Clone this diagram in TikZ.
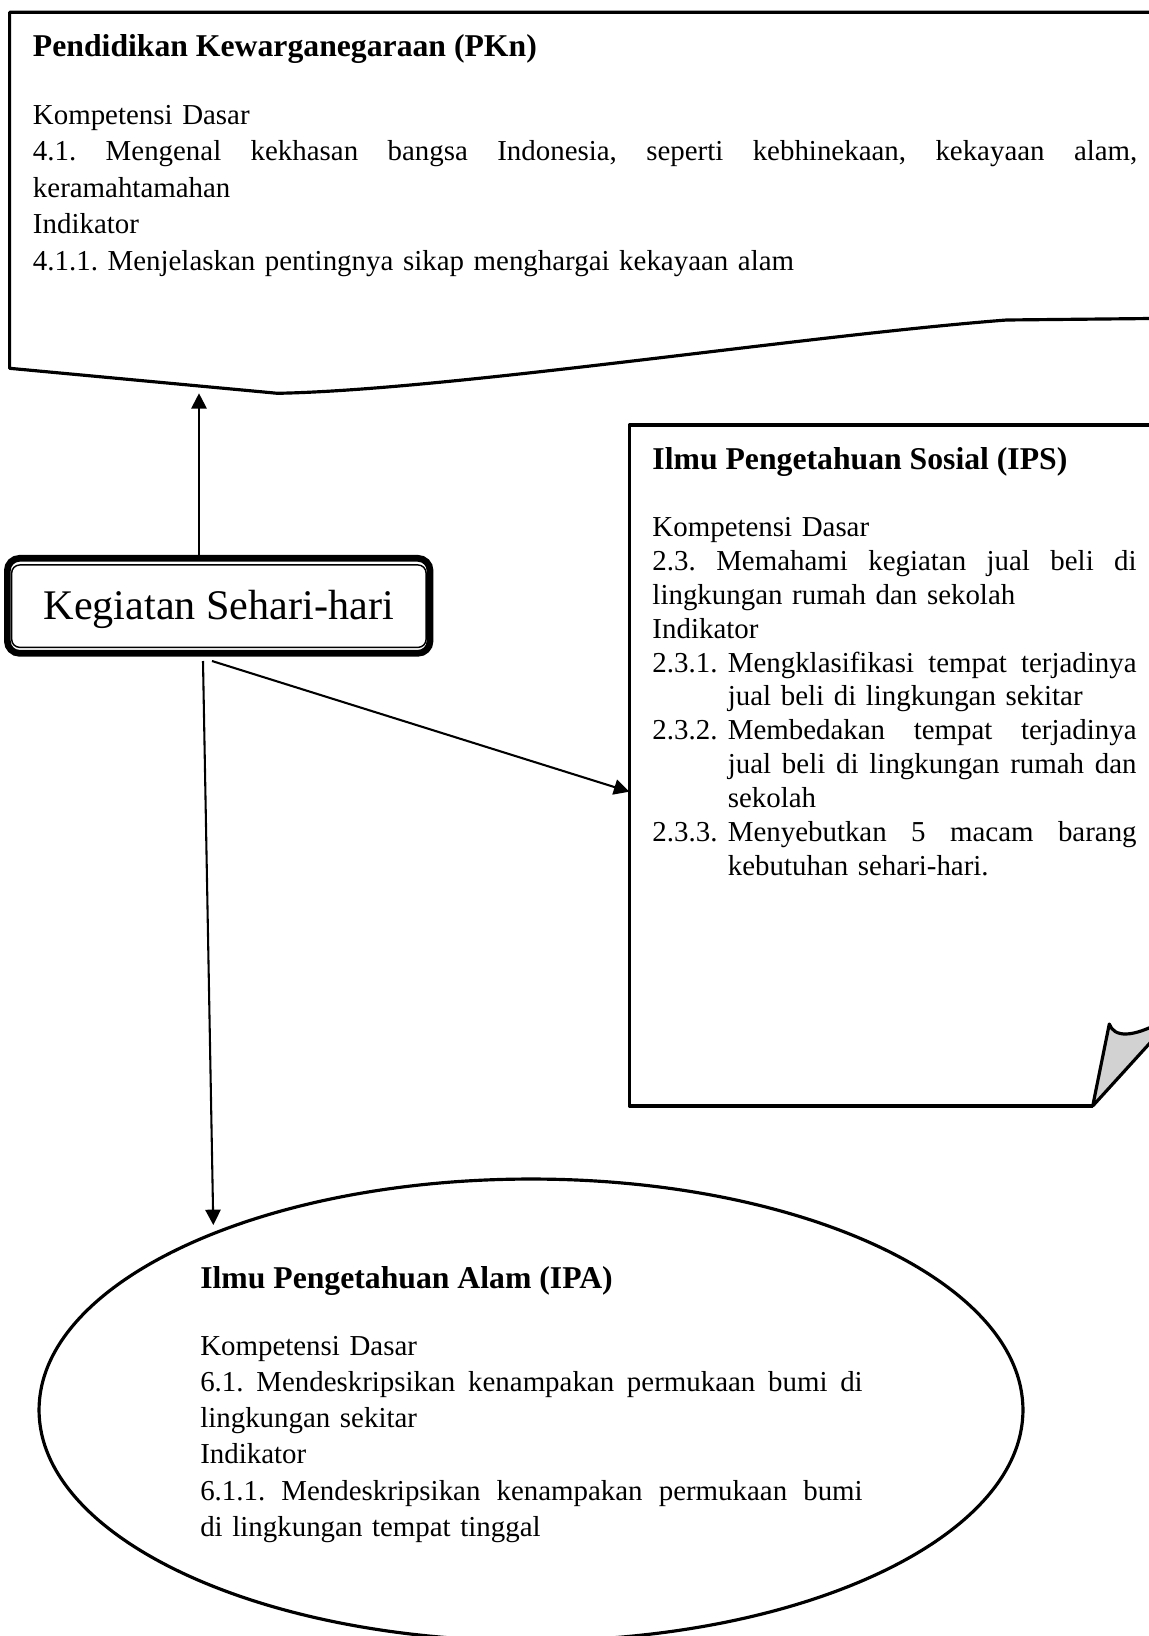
\documentclass[tikz,border=0pt]{standalone}
\usepackage{fontspec}
\setmainfont{Liberation Serif}
\usetikzlibrary{arrows.meta,shapes.geometric}
\frenchspacing
\setlength{\parindent}{0pt}
% hanging indent of the numbered indicator items
\newlength{\hangind}
\setlength{\hangind}{30.9pt}
% a line whose word spaces are stretched to the given width
\newcommand{\spreadrow}[2]{\makebox[#1][s]{\spaceskip=0.25em plus 1fil\relax #2}}
% numbered item: number in the indent, text stretched to the right margin
\newcommand{\numrow}[3]{\makebox[\hangind][l]{#2}\spreadrow{#1}{#3}}
% continuation line of an item, ragged
\newcommand{\hangrow}[1]{\hspace*{\hangind}#1}
% continuation line of an item, stretched
\newcommand{\hangfull}[2]{\hspace*{\hangind}\spreadrow{#1}{#2}}

\begin{document}
\begin{tikzpicture}[x=0.41pt,y=-0.41pt,
  panel/.style={line width=1.3pt, line join=round},
  heading/.style={inner sep=0pt, anchor=base west, font=\fontsize{13}{15}\selectfont\bfseries},
  bodytext/.style={inner sep=0pt, anchor=base west, align=left},
  arr/.style={line width=0.85pt, -{Triangle[length=6.3pt,width=6.3pt]}},
  hub/.style={draw, line width=2.75pt, rounded corners=5pt, inner sep=0pt,
    minimum width=173.3pt, minimum height=38.95pt,
    font=\fontsize{17.3}{20}\selectfont, text height=11.6pt, text depth=0pt}]

\useasboundingbox (0,0) rectangle (1149,1636);
\clip (0,0) rectangle (1149,1636);

% PKn: document shape with wavy lower edge
\draw[panel] (1170,12.3) -- (9.6,12.3) -- (9.6,368.3) -- (277.5,393.3)
  .. controls (450,390) and (800,336) .. (1006.5,320) -- (1170,318.3);

% IPS: sheet with a curled lower right corner
\draw[panel] (1092.7,1106) -- (629.4,1106) -- (629.4,425) -- (1170,425);
\fill[gray!35] (1092.7,1106) -- (1109.3,1024)
  .. controls (1114,1037) and (1131,1039) .. (1165,1020) -- (1165,1026.4) -- cycle;
\draw[panel] (1165,1026.4) -- (1092.7,1106) -- (1109.3,1024)
  .. controls (1114,1037) and (1131,1039) .. (1165,1020);

% IPA: ellipse
\node[draw, ellipse, line width=1.3pt, inner sep=0pt,
  minimum width=403.4pt, minimum height=189.4pt] (ipa) at (531,1410) {};

% central topic
\node[hub] (keg) at (218.7,605.8) {Kegiatan Sehari-hari};
\draw[line width=0.6pt, rounded corners=3.3pt]
  ([shift={(3.15pt,-4.1pt)}]keg.north west) rectangle ([shift={(-3pt,3.8pt)}]keg.south east);

% connector end points
\coordinate (pknIn) at (199,393.3);
\coordinate (ipsIn) at (629.3,791.7);
\coordinate (ipaIn) at (213.3,1225);
\coordinate (kegOutA) at (203,661);
\coordinate (kegOutB) at (212,661);

\draw[arr] (keg.north -| pknIn) -- (pknIn);
\draw[arr] (kegOutB) -- (ipsIn);
\draw[arr] (kegOutA) -- (ipaIn);

% PKn text
\node[heading] (pknT) at (32.5,56.3) {Pendidikan Kewarganegaraan (PKn)};
\node[bodytext, text width=452.8pt, font=\fontsize{11.85}{15.03}\selectfont] (pknB) at (32.5,124) {%
Kompetensi Dasar\\
\spreadrow{452.8pt}{4.1. Mengenal kekhasan bangsa Indonesia, seperti kebhinekaan, kekayaan alam,}\\
keramahtamahan\\
Indikator\\
4.1.1. Menjelaskan pentingnya sikap menghargai kekayaan alam};

% IPS text
\node[heading] (ipsT) at (652,469) {Ilmu Pengetahuan Sosial (IPS)};
\node[bodytext, text width=198.5pt, font=\fontsize{11.85}{13.89}\selectfont] (ipsB) at (652,536.5) {%
Kompetensi Dasar\\
\spreadrow{198.5pt}{2.3. Memahami kegiatan jual beli di}\\
lingkungan rumah dan sekolah\\
Indikator\\
\numrow{167.6pt}{2.3.1.}{Mengklasifikasi tempat terjadinya}\\
\hangrow{jual beli di lingkungan sekitar}\\
\numrow{167.6pt}{2.3.2.}{Membedakan tempat terjadinya}\\
\hangfull{167.6pt}{jual beli di lingkungan rumah dan}\\
\hangrow{sekolah}\\
\numrow{167.6pt}{2.3.3.}{Menyebutkan 5 macam barang}\\
\hangrow{kebutuhan sehari-hari.}};

% IPA text
\node[heading] (ipaT) at (199.8,1288.3) {Ilmu Pengetahuan Alam (IPA)};
\node[bodytext, text width=271.6pt, font=\fontsize{11.85}{14.85}\selectfont] (ipaB) at (199.8,1355.3) {%
Kompetensi Dasar\\
\spreadrow{271.6pt}{6.1. Mendeskripsikan kenampakan permukaan bumi di}\\
lingkungan sekitar\\
Indikator\\
\spreadrow{271.6pt}{6.1.1. Mendeskripsikan kenampakan permukaan bumi}\\
di lingkungan tempat tinggal};

\end{tikzpicture}
\end{document}
